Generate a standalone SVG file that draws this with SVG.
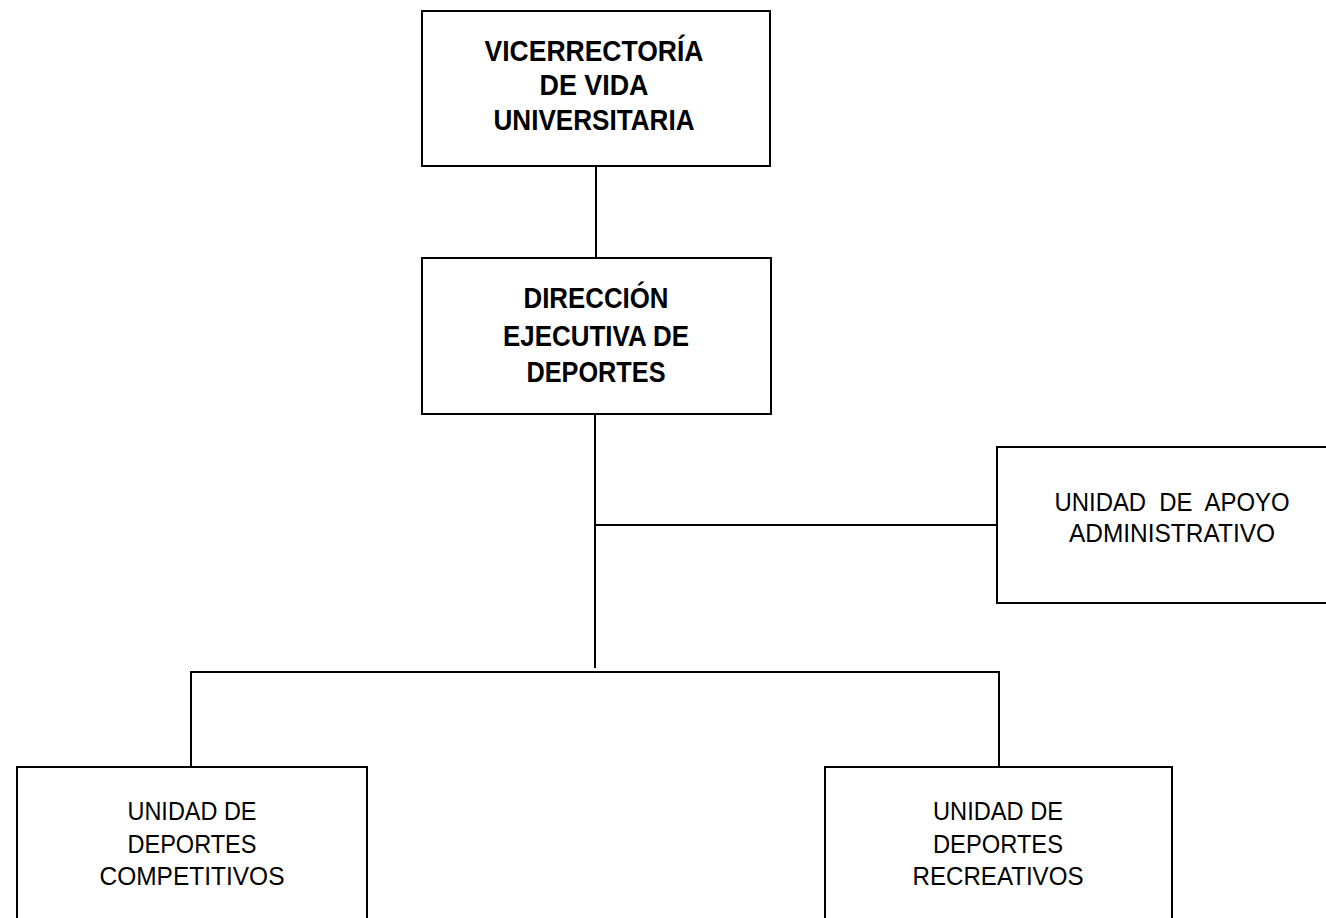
<svg xmlns="http://www.w3.org/2000/svg" width="1326" height="918" viewBox="0 0 1326 918">
<style>
.box{fill:#fff;stroke:#000;stroke-width:2}
.ln{stroke:#000;stroke-width:2;fill:none}
.b{font-family:"Liberation Sans",Arial,sans-serif;font-weight:bold;font-size:29px;text-anchor:middle;fill:#000}
.r{font-family:"Liberation Sans",Arial,sans-serif;font-size:26px;text-anchor:middle;fill:#000;white-space:pre}
</style>
<rect width="1326" height="918" fill="#fff"/>
<g id="connectors">
<line class="ln" x1="596" y1="166" x2="596" y2="258"/>
<line class="ln" x1="595" y1="414" x2="595" y2="668"/>
<line class="ln" x1="595" y1="525" x2="997" y2="525"/>
<polyline class="ln" points="191,767 191,672 999,672 999,767"/>
</g>
<g id="vicerrectoria">
<rect class="box" x="422" y="11" width="348" height="155"/>
<text class="b" x="594" y="61" textLength="219" lengthAdjust="spacingAndGlyphs">VICERRECTORÍA</text>
<text class="b" x="594" y="95" textLength="109" lengthAdjust="spacingAndGlyphs">DE VIDA</text>
<text class="b" x="594" y="130" textLength="201" lengthAdjust="spacingAndGlyphs">UNIVERSITARIA</text>
</g>
<g id="direccion">
<rect class="box" x="422" y="258" width="349" height="156"/>
<text class="b" x="596" y="308" textLength="145" lengthAdjust="spacingAndGlyphs">DIRECCIÓN</text>
<text class="b" x="596" y="346" textLength="186" lengthAdjust="spacingAndGlyphs">EJECUTIVA DE</text>
<text class="b" x="596" y="382" textLength="139" lengthAdjust="spacingAndGlyphs">DEPORTES</text>
</g>
<g id="apoyo">
<rect class="box" x="997" y="447" width="345" height="156"/>
<text class="r" x="1172" y="511" textLength="235" lengthAdjust="spacingAndGlyphs">UNIDAD  DE  APOYO</text>
<text class="r" x="1172" y="542" textLength="206" lengthAdjust="spacingAndGlyphs">ADMINISTRATIVO</text>
</g>
<g id="competitivos">
<rect class="box" x="17" y="767" width="350" height="165"/>
<text class="r" x="192" y="820" textLength="129" lengthAdjust="spacingAndGlyphs">UNIDAD DE</text>
<text class="r" x="192" y="853" textLength="129" lengthAdjust="spacingAndGlyphs">DEPORTES</text>
<text class="r" x="192" y="885" textLength="185" lengthAdjust="spacingAndGlyphs">COMPETITIVOS</text>
</g>
<g id="recreativos">
<rect class="box" x="825" y="767" width="347" height="165"/>
<text class="r" x="998" y="820" textLength="130" lengthAdjust="spacingAndGlyphs">UNIDAD DE</text>
<text class="r" x="998" y="853" textLength="130" lengthAdjust="spacingAndGlyphs">DEPORTES</text>
<text class="r" x="998" y="885" textLength="171" lengthAdjust="spacingAndGlyphs">RECREATIVOS</text>
</g>
</svg>
